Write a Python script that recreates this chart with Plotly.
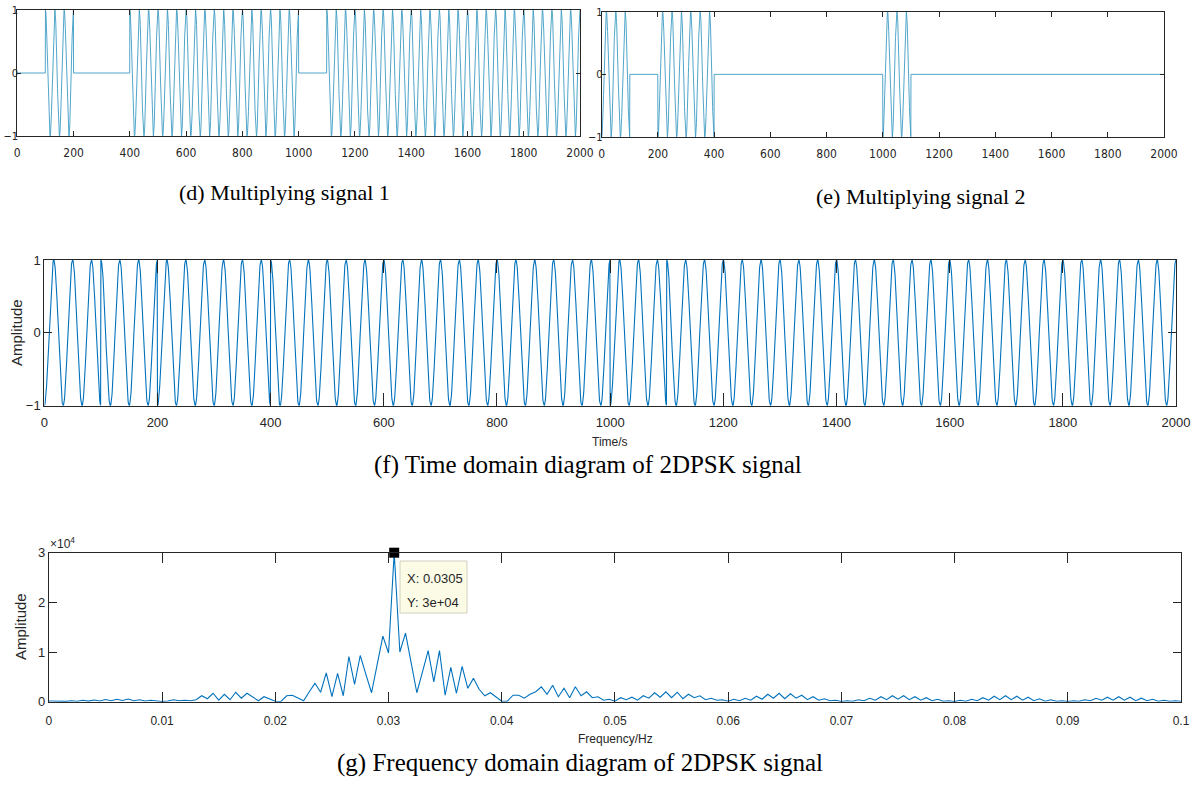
import numpy as np
import plotly.graph_objects as go

# ---------------- data ----------------
# differential code bits, one per 100 s symbol (20 symbols over 0..2000 s)
bits_d = [0, 1, 0, 0, 1, 1, 1, 1, 1, 1, 0, 1, 1, 1, 1, 1, 1, 1, 1, 1]
symbol_len = 100          # s per symbol
carrier_period = 100 / 3  # s (3 carrier cycles per symbol)
t_end = 2000

# spectrum magnitude, bins of 0.0005 Hz from 0 to 0.1 Hz
freq_step = 0.0005
spectrum = [
    150, 80, 120, 60, 180, 90, 300, 120, 350, 150,
    450, 200, 500, 250, 550, 200, 400, 150, 300, 100,
    50, 150, 400, 200, 300, 200, 400, 1200, 600, 1700,
    300, 1500, 400, 1900, 700, 1700, 1000, 200, 1000, 600,
    100, 50, 1200, 1300, 800, 200, 2000, 3700, 1900, 5800,
    1000, 5700, 1200, 9100, 3500, 9300, 5500, 1800, 7500, 13200,
    9800, 30000, 10000, 13800, 7800, 1800, 6000, 10300, 4000, 10300,
    1300, 6900, 1700, 7100, 2700, 4700, 2500, 1200, 1800, 1000,
    100, 100, 1300, 1300, 700, 1500, 2000, 3000, 1500, 3300,
    1000, 2700, 800, 3000, 1200, 2000, 800, 1000, 300, 500,
    100, 800, 400, 900, 300, 1200, 700, 1800, 900, 2000,
    800, 1900, 600, 1500, 800, 1200, 400, 700, 300, 400,
    100, 500, 200, 700, 300, 1100, 500, 1500, 700, 1700,
    600, 1600, 700, 1300, 400, 1000, 300, 600, 200, 300,
    50, 200, 100, 400, 200, 700, 300, 1000, 400, 1200,
    500, 1200, 400, 1000, 300, 800, 200, 500, 100, 200,
    50, 300, 100, 500, 200, 800, 300, 1100, 400, 1200,
    400, 1100, 300, 900, 200, 600, 100, 400, 100, 200,
    50, 200, 100, 400, 200, 700, 300, 900, 300, 1000,
    300, 900, 200, 700, 200, 500, 100, 300, 100, 200,
    100,
]
cursor_x = 0.0305
cursor_y = 30000

# ---------------- build the waveforms from the bits ----------------
t = np.arange(0, t_end + 0.25, 0.5)
idx = np.minimum((t // symbol_len).astype(int), len(bits_d) - 1)
d = np.array(bits_d)[idx]
carrier = np.cos(2 * np.pi * t / carrier_period)
sig1 = d * carrier
sig2 = (1 - d) * (-carrier)
sig_dpsk = sig1 + sig2
freqs = np.arange(len(spectrum)) * freq_step

# ---------------- figure ----------------
W, H = 1195, 798
OFF = 0  # page body margin removed by post_script
def px(x):
    return (x - OFF) / W
def py(y):
    return 1 - (y - OFF) / H

fig = go.Figure()
line_light = "#3d9cc4"
line_blue = "#0072BD"
fig.add_trace(go.Scatter(x=t, y=sig1, mode="lines", line=dict(color=line_light, width=0.9),
                         xaxis="x", yaxis="y", showlegend=False, hoverinfo="skip"))
fig.add_trace(go.Scatter(x=t, y=sig2, mode="lines", line=dict(color=line_light, width=0.9),
                         xaxis="x2", yaxis="y2", showlegend=False, hoverinfo="skip"))
fig.add_trace(go.Scatter(x=t, y=sig_dpsk, mode="lines", line=dict(color=line_blue, width=1.1),
                         xaxis="x3", yaxis="y3", showlegend=False, hoverinfo="skip"))
fig.add_trace(go.Scatter(x=freqs, y=spectrum, mode="lines", line=dict(color=line_blue, width=1.1),
                         xaxis="x4", yaxis="y4", showlegend=False, hoverinfo="skip"))
fig.add_trace(go.Scatter(x=[cursor_x], y=[cursor_y], mode="markers",
                         marker=dict(symbol="square", size=10, color="black"),
                         xaxis="x4", yaxis="y4", showlegend=False, cliponaxis=False, hoverinfo="skip"))

narrow = "Liberation Sans Narrow, Arial Narrow, DejaVu Sans Condensed, sans-serif"
arial = "Liberation Sans, Arial, sans-serif"
serif = "Liberation Serif, Times New Roman, serif"

def ax(domain, anchor, rng, dtick=None, font=arial, size=13, ticklen=8, standoff=0,
       tickvals=None, ticktext=None):
    a = dict(domain=domain, anchor=anchor, range=rng, showline=True, mirror="ticks",
             linecolor="#262626", linewidth=1, ticks="inside", ticklen=ticklen,
             tickcolor="#262626", tickwidth=1, showgrid=False, zeroline=False, automargin=False,
             tickfont=dict(family=font, size=size, color="#262626"), fixedrange=True,
             ticklabelstandoff=standoff)
    if dtick is not None:
        a["dtick"] = dtick
        a["tick0"] = 0
    if tickvals is not None:
        a["tickmode"] = "array"
        a["tickvals"] = tickvals
        a["ticktext"] = ticktext
    return a

dom_d_x = [px(17.3), px(580)]
dom_d_y = [py(136), py(10)]
dom_e_x = [px(601.7), px(1164)]
dom_e_y = [py(137), py(11.7)]
dom_f_x = [px(44.3), px(1176)]
dom_f_y = [py(405.7), py(260)]
dom_g_x = [px(48.9), px(1181)]
dom_g_y = [py(701.7), py(552.7)]

fig.update_layout(
    width=W, height=H, margin=dict(l=0, r=0, t=0, b=0, autoexpand=False),
    paper_bgcolor="white", plot_bgcolor="white",
    xaxis=ax(dom_d_x, "y", [0, 2000], 200, narrow, 12, 5, 6),
    yaxis=ax(dom_d_y, "x", [-1, 1], 1, narrow, 11, 4, -4),
    xaxis2=ax(dom_e_x, "y2", [0, 2000], 200, narrow, 12, 5, 6),
    yaxis2=ax(dom_e_y, "x2", [-1, 1], 1, narrow, 11, 4, -4),
    xaxis3=ax(dom_f_x, "y3", [0, 2000], 200, arial, 13, 13, 5),
    yaxis3=ax(dom_f_y, "x3", [-1, 1], 1, arial, 13, 8, 0),
    xaxis4=ax(dom_g_x, "y4", [0, 0.1], 0.01, arial, 12, 10, 8),
    yaxis4=ax(dom_g_y, "x4", [0, 30000], None, arial, 13, 8, 0,
              tickvals=[0, 10000, 20000, 30000], ticktext=["0", "1", "2", "3"]),
)

ann = []
def caption(text, x, y, size):
    ann.append(dict(text=text, x=px(x), y=py(y), xref="paper", yref="paper", showarrow=False,
                    font=dict(family=serif, size=size, color="black"), xanchor="center", yanchor="middle"))

caption("(d) Multiplying signal 1", 284, 192, 22)
caption("(e) Multiplying signal 2", 921, 197, 22)
caption("(f) Time domain diagram of 2DPSK signal", 588, 465, 25)
caption("(g) Frequency domain diagram of 2DPSK signal", 580, 763, 25)

def label(text, x, y, size, angle=0):
    ann.append(dict(text=text, x=px(x), y=py(y), xref="paper", yref="paper", showarrow=False,
                    textangle=angle, font=dict(family=arial, size=size, color="#262626"),
                    xanchor="center", yanchor="middle"))

label("Amplitude", 16, 333, 15, -90)
label("Time/s", 610, 442, 12)
label("Amplitude", 20, 627, 15, -90)
label("Frequency/Hz", 615, 739, 12)
ann.append(dict(text="\u00d710<sup>4</sup>", x=px(48), y=py(543), xref="paper", yref="paper",
                showarrow=False, xanchor="left", yanchor="middle",
                font=dict(family=arial, size=12, color="#262626")))

# data cursor tip box
fig.add_shape(type="rect", xref="paper", yref="paper", x0=px(400), x1=px(467), y0=py(613), y1=py(561),
              fillcolor="#FBFBE6", line=dict(color="#D0D0C0", width=1), layer="above")
ann.append(dict(text="X: 0.0305", x=px(405), y=py(578), xref="paper", yref="paper", showarrow=False,
                xanchor="left", yanchor="middle", font=dict(family=arial, size=13, color="#262626")))
ann.append(dict(text="Y: 3e+04", x=px(405), y=py(602), xref="paper", yref="paper", showarrow=False,
                xanchor="left", yanchor="middle", font=dict(family=arial, size=13, color="#262626")))

fig.update_layout(annotations=ann)
fig.write_html("out.html", config={"displayModeBar": False},
               post_script="document.body.style.margin='0';document.body.style.overflow='hidden';")
